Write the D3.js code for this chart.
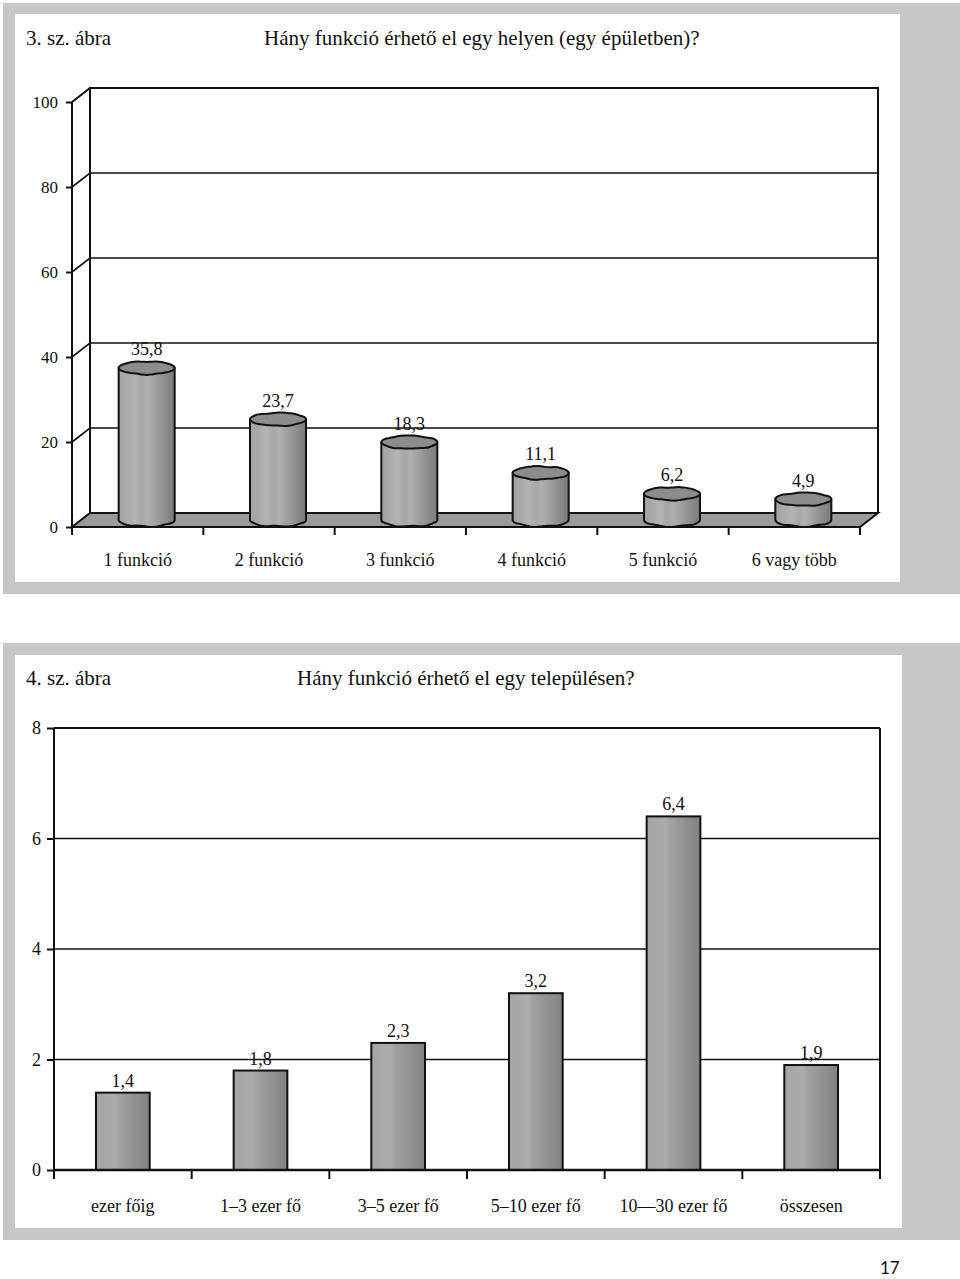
<!DOCTYPE html>
<html>
<head>
<meta charset="utf-8">
<script src="https://cdn.jsdelivr.net/npm/d3@7"></script>
<style>
  body { margin: 0; background: #fff; }
  svg { display: block; }
  text { font-family: "Liberation Serif", "DejaVu Serif", serif; fill: #111; }
</style>
</head>
<body>
<svg id="page" width="960" height="1279"></svg>
<script>
// chart 3: functions in one building
const cats3 = ['1 funkció', '2 funkció', '3 funkció', '4 funkció', '5 funkció', '6 vagy több'];
const vals3 = [35.8, 23.7, 18.3, 11.1, 6.2, 4.9];
const ticks3 = [0, 20, 40, 60, 80, 100];

// chart 4: functions in one settlement
const cats4 = ['ezer főig', '1–3 ezer fő', '3–5 ezer fő', '5–10 ezer fő', '10—30 ezer fő', 'összesen'];
const vals4 = [1.4, 1.8, 2.3, 3.2, 6.4, 1.9];
const ticks4 = [0, 2, 4, 6, 8];

const fmt = v => String(v).replace('.', ',');

const svg = d3.select('#page');
const defs = svg.append('defs');

let g1 = defs.append('linearGradient').attr('id', 'cyl').attr('x1', 0).attr('x2', 1).attr('y1', 0).attr('y2', 0);
[[0, '#a2a2a2'], [0.3, '#b3b3b3'], [0.42, '#a6a6a6'], [0.52, '#b0b0b0'], [0.75, '#969696'], [1, '#7a7a7a']]
    .forEach(s => g1.append('stop').attr('offset', s[0]).attr('stop-color', s[1]));

let g2 = defs.append('linearGradient').attr('id', 'bar').attr('x1', 0).attr('x2', 1).attr('y1', 0).attr('y2', 0);
[[0, '#a3a5a7'], [0.35, '#aaacae'], [0.45, '#9ea0a2'], [1, '#808284']]
    .forEach(s => g2.append('stop').attr('offset', s[0]).attr('stop-color', s[1]));

// panels
svg.append('rect').attr('x', 3).attr('y', 3).attr('width', 957).attr('height', 591).attr('fill', '#c6c6c6');
svg.append('rect').attr('x', 15).attr('y', 14).attr('width', 885).attr('height', 568).attr('fill', '#fff');
svg.append('rect').attr('x', 3).attr('y', 643).attr('width', 957).attr('height', 597).attr('fill', '#c6c6c6');
svg.append('rect').attr('x', 15).attr('y', 655).attr('width', 887).attr('height', 573).attr('fill', '#fff');

// titles
svg.append('text').attr('x', 26).attr('y', 45).attr('font-size', 21).text('3. sz. ábra');
svg.append('text').attr('x', 264).attr('y', 45).attr('font-size', 21).text('Hány funkció érhető el egy helyen (egy épületben)?');
svg.append('text').attr('x', 26).attr('y', 685).attr('font-size', 21).text('4. sz. ábra');
svg.append('text').attr('x', 297).attr('y', 685).attr('font-size', 21).text('Hány funkció érhető el egy településen?');
svg.append('text').attr('x', 880).attr('y', 1274).attr('font-size', 17)
    .style('font-family', 'Lato, "Noto Sans", sans-serif').text('17');

// ---------- chart 3 (3D cylinders) ----------
const dx = 18, dy = -14;
const x3 = d3.scaleBand().domain(cats3).range([72, 860]);
const y3 = d3.scaleLinear().domain([0, 100]).range([527, 102]);
const c3 = svg.append('g');

// back wall
c3.append('path')
    .attr('d', `M${72 + dx},${y3(0) + dy}V${y3(100) + dy}H${860 + dx}V${y3(0) + dy}`)
    .attr('fill', 'none').attr('stroke', '#111').attr('stroke-width', 2);
// grid lines on back wall and side wall
ticks3.filter(t => t > 0).forEach(t => {
    c3.append('path')
        .attr('d', `M72,${y3(t)}L${72 + dx},${y3(t) + dy}H${860 + dx}`)
        .attr('fill', 'none').attr('stroke', '#111').attr('stroke-width', t === 100 ? 2 : 1.6);
});
// floor
c3.append('path')
    .attr('d', `M72,${y3(0)}H860L${860 + dx},${y3(0) + dy}H${72 + dx}Z`)
    .attr('fill', '#9a9a9a').attr('stroke', '#111').attr('stroke-width', 2);

// y axis
const ax3 = c3.append('g').attr('transform', 'translate(72,0)')
    .call(d3.axisLeft(y3).tickValues(ticks3).tickSize(6).tickPadding(8).tickFormat(d3.format('d')));
ax3.select('.domain').attr('stroke', '#111').attr('stroke-width', 2).attr('d', `M0,${y3(0)}V${y3(100)}`);
ax3.selectAll('.tick line').attr('stroke', '#111').attr('stroke-width', 2);
ax3.selectAll('.tick text').attr('font-size', 17).attr('fill', '#111');

// x boundary ticks
const bounds3 = cats3.map(c => x3(c)).concat([x3.range()[1]]);
c3.selectAll('.xt').data(bounds3).join('line')
    .attr('x1', d => d).attr('x2', d => d).attr('y1', y3(0)).attr('y2', y3(0) + 8)
    .attr('stroke', '#111').attr('stroke-width', 2);
c3.selectAll('.xl').data(cats3).join('text')
    .attr('x', d => x3(d) + x3.bandwidth() / 2).attr('y', 566)
    .attr('text-anchor', 'middle').attr('font-size', 18).text(d => d);

// slightly irregular outlines, like the hand-traced original
function wobble(cx, cy, rx, ry, seed) {
    const n = 40, pts = [];
    for (let i = 0; i < n; i++) {
        const a = i / n * Math.PI * 2;
        const k = 1 + 0.06 * Math.sin(a * 5 + seed) + 0.03 * Math.sin(a * 9 + seed * 2);
        pts.push([cx + Math.cos(a) * rx, cy + Math.sin(a) * ry * k]);
    }
    return d3.line().curve(d3.curveCatmullRomClosed)(pts);
}
function bodyPath(cx, top, base, rx, ry, seed) {
    const pts = [[cx - rx, top]];
    const n = 24;
    for (let i = 0; i <= n; i++) {
        const a = Math.PI - i / n * Math.PI;
        const k = 1 + 0.1 * Math.sin(a * 6 + seed);
        pts.push([cx + Math.cos(a) * rx, base + Math.sin(a) * ry * k]);
    }
    pts.push([cx + rx, top]);
    return d3.line().curve(d3.curveLinear)(pts) + 'Z';
}

const rx = 28, ry = 6.5;
cats3.forEach((c, i) => {
    const v = vals3[i];
    const cx = x3(c) + x3.bandwidth() / 2 + dx / 2;
    const base = y3(0) + dy / 2;
    const top = y3(v) + dy / 2;
    c3.append('path').attr('d', bodyPath(cx, top, base, rx, ry, i))
        .attr('fill', 'url(#cyl)').attr('stroke', '#111').attr('stroke-width', 2).attr('stroke-linejoin', 'round');
    c3.append('path').attr('d', wobble(cx, top, rx, ry, i * 1.7))
        .attr('fill', '#8c8c8c').attr('stroke', '#111').attr('stroke-width', 2);
    c3.append('text').attr('x', cx).attr('y', top - 12.5)
        .attr('text-anchor', 'middle').attr('font-size', 18).text(fmt(v));
});

// ---------- chart 4 (flat bars) ----------
const x4 = d3.scaleBand().domain(cats4).range([54, 880]);
const y4 = d3.scaleLinear().domain([0, 8]).range([1170, 728]);
const c4 = svg.append('g');

ticks4.filter(t => t > 0).forEach(t => {
    c4.append('line').attr('x1', 54).attr('x2', 880).attr('y1', y4(t)).attr('y2', y4(t))
        .attr('stroke', '#111').attr('stroke-width', t === 8 ? 2 : 1.6);
});
c4.append('line').attr('x1', 880).attr('x2', 880).attr('y1', y4(8)).attr('y2', y4(0) + 9)
    .attr('stroke', '#111').attr('stroke-width', 2);

const bw = x4.bandwidth() * 0.39;
c4.selectAll('.bar').data(cats4).join('rect')
    .attr('x', d => x4(d) + (x4.bandwidth() - bw) / 2)
    .attr('y', (d, i) => y4(vals4[i]))
    .attr('width', bw)
    .attr('height', (d, i) => y4(0) - y4(vals4[i]))
    .attr('fill', 'url(#bar)').attr('stroke', '#111').attr('stroke-width', 2);
c4.selectAll('.vl').data(cats4).join('text')
    .attr('x', d => x4(d) + x4.bandwidth() / 2)
    .attr('y', (d, i) => y4(vals4[i]) - 6)
    .attr('text-anchor', 'middle').attr('font-size', 18).text((d, i) => fmt(vals4[i]));

const ax4 = c4.append('g').attr('transform', 'translate(54,0)')
    .call(d3.axisLeft(y4).tickValues(ticks4).tickSize(7).tickPadding(6).tickFormat(d3.format('d')));
ax4.select('.domain').attr('stroke', '#111').attr('stroke-width', 2).attr('d', `M0,${y4(0)}V${y4(8)}`);
ax4.selectAll('.tick line').attr('stroke', '#111').attr('stroke-width', 2);
ax4.selectAll('.tick text').attr('font-size', 18).attr('fill', '#111');

c4.append('line').attr('x1', 54).attr('x2', 880).attr('y1', y4(0)).attr('y2', y4(0))
    .attr('stroke', '#111').attr('stroke-width', 2.5);
const bounds4 = cats4.map(c => x4(c)).concat([x4.range()[1]]);
c4.selectAll('.xt').data(bounds4).join('line')
    .attr('x1', d => d).attr('x2', d => d).attr('y1', y4(0)).attr('y2', y4(0) + 9)
    .attr('stroke', '#111').attr('stroke-width', 2);
c4.selectAll('.xl').data(cats4).join('text')
    .attr('x', d => x4(d) + x4.bandwidth() / 2).attr('y', 1212)
    .attr('text-anchor', 'middle').attr('font-size', 18).text(d => d);
</script>
</body>
</html>
